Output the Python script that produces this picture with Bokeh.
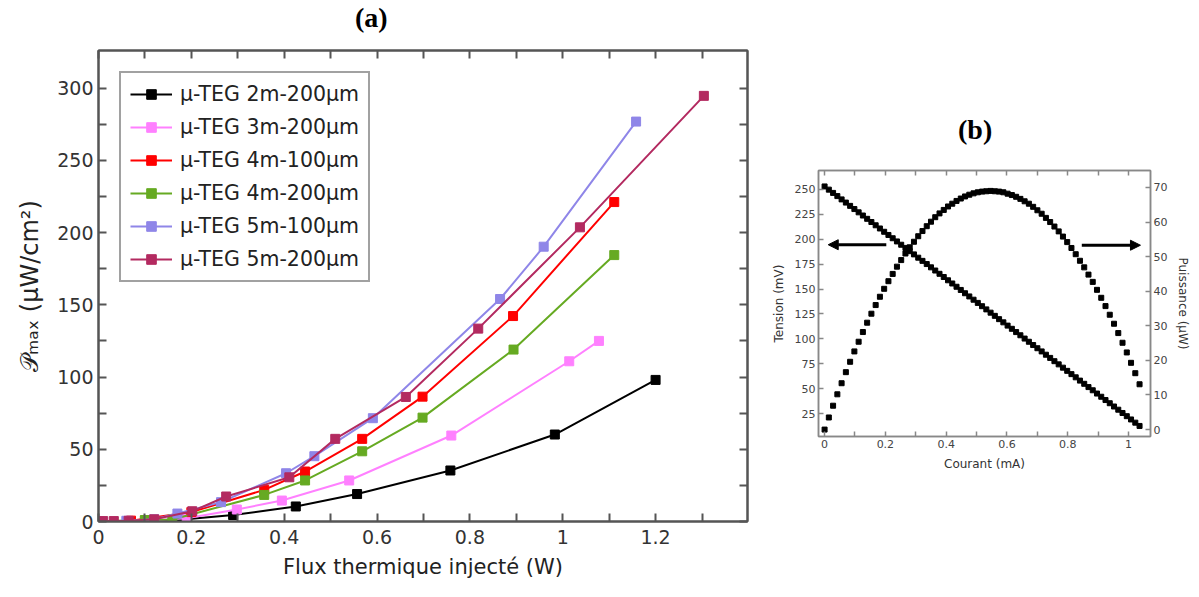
from bokeh.plotting import figure
from bokeh.layouts import row, column
from bokeh.models import (Range1d, LinearAxis, FixedTicker, CustomJSTickFormatter,
                          Arrow, NormalHead, Spacer, Div)
from bokeh.embed import file_html
from bokeh.resources import INLINE

# ---------------- panel (a) data ----------------
series_names = ["µ-TEG 2m-200µm", "µ-TEG 3m-200µm", "µ-TEG 4m-100µm",
                "µ-TEG 4m-200µm", "µ-TEG 5m-100µm", "µ-TEG 5m-200µm"]
series_colors = ["#000000", "#ff80ff", "#ff0000", "#66aa22", "#8f86e8", "#b32a60"]

flux_2m200 = [0.0, 0.10, 0.177, 0.29, 0.425, 0.557, 0.758, 0.983, 1.20]
pmax_2m200 = [0.0, 0.6, 1.2, 4.5, 10.4, 19.0, 35.3, 60.2, 98.0]

flux_3m200 = [0.0, 0.10, 0.19, 0.298, 0.395, 0.54, 0.76, 1.014, 1.078]
pmax_3m200 = [0.0, 0.5, 2.3, 8.3, 14.5, 28.4, 59.5, 110.9, 125.0]

flux_4m100 = [0.0, 0.07, 0.20, 0.357, 0.445, 0.568, 0.698, 0.893, 1.111]
pmax_4m100 = [0.2, 0.6, 6.5, 21.9, 34.6, 57.2, 86.4, 142.2, 221.1]

flux_4m200 = [0.0, 0.10, 0.159, 0.357, 0.445, 0.568, 0.698, 0.894, 1.111]
pmax_4m200 = [0.2, 1.0, 1.4, 18.4, 28.4, 48.6, 71.9, 119.0, 184.4]

flux_5m100 = [0.0, 0.06, 0.12, 0.17, 0.264, 0.404, 0.465, 0.591, 0.865, 0.959, 1.158]
pmax_5m100 = [0.2, 0.5, 1.5, 5.5, 13.4, 33.4, 45.2, 71.5, 154.0, 190.2, 276.8]

flux_5m200 = [0.01, 0.033, 0.065, 0.12, 0.202, 0.275, 0.411, 0.51, 0.662, 0.818, 1.037, 1.304]
pmax_5m200 = [0.3, 0.3, 0.5, 1.5, 7.1, 17.3, 30.6, 57.2, 86.2, 133.5, 203.6, 294.6]

a_x_major = [0, 0.2, 0.4, 0.6, 0.8, 1.0, 1.2]
a_x_minor = [0.1, 0.3, 0.5, 0.7, 0.9, 1.1, 1.3]
a_y_major = [0, 50, 100, 150, 200, 250, 300]
a_y_minor = [25, 75, 125, 175, 225, 275]

# ---------------- panel (b) data ----------------
courant_mA = [0.000, 0.014, 0.028, 0.042, 0.056, 0.070, 0.084, 0.098, 0.112, 0.126,
              0.140, 0.154, 0.168, 0.182, 0.196, 0.210, 0.224, 0.238, 0.252, 0.266,
              0.280, 0.294, 0.308, 0.322, 0.336, 0.350, 0.364, 0.378, 0.392, 0.406,
              0.420, 0.434, 0.448, 0.462, 0.476, 0.490, 0.504, 0.518, 0.532, 0.546,
              0.560, 0.574, 0.588, 0.602, 0.616, 0.630, 0.644, 0.658, 0.672, 0.686,
              0.700, 0.714, 0.728, 0.742, 0.756, 0.770, 0.784, 0.798, 0.812, 0.826,
              0.840, 0.854, 0.868, 0.882, 0.896, 0.910, 0.924, 0.938, 0.952, 0.966,
              0.980, 0.994, 1.008, 1.022, 1.036]
tension_mV = [253.0, 249.8, 246.5, 243.3, 240.0, 236.8, 233.5, 230.3, 227.0, 223.8,
              220.5, 217.3, 214.0, 210.8, 207.5, 204.3, 201.0, 197.8, 194.5, 191.3,
              188.0, 184.8, 181.5, 178.3, 175.1, 171.8, 168.6, 165.3, 162.1, 158.8,
              155.6, 152.3, 149.1, 145.8, 142.6, 139.3, 136.1, 132.8, 129.6, 126.3,
              123.1, 119.8, 116.6, 113.3, 110.1, 106.8, 103.6, 100.3, 97.1, 93.8,
              90.6, 87.4, 84.1, 80.9, 77.6, 74.4, 71.1, 67.9, 64.6, 61.4,
              58.1, 54.9, 51.6, 48.4, 45.1, 41.9, 38.6, 35.4, 32.1, 28.9,
              25.6, 22.4, 19.1, 15.9, 12.6]
puissance_uW = [0.0, 3.5, 6.9, 10.2, 13.4, 16.6, 19.6, 22.6, 25.4, 28.2,
                30.9, 33.5, 36.0, 38.4, 40.7, 42.9, 45.0, 47.1, 49.0, 50.9,
                52.7, 54.3, 55.9, 57.4, 58.8, 60.1, 61.4, 62.5, 63.5, 64.5,
                65.3, 66.1, 66.8, 67.4, 67.9, 68.3, 68.6, 68.8, 68.9, 69.0,
                68.9, 68.8, 68.6, 68.2, 67.8, 67.3, 66.7, 66.0, 65.3, 64.4,
                63.4, 62.4, 61.2, 60.0, 58.7, 57.3, 55.8, 54.2, 52.5, 50.7,
                48.8, 46.9, 44.8, 42.7, 40.4, 38.1, 35.7, 33.2, 30.6, 27.9,
                25.1, 22.3, 19.3, 16.3, 13.1]

b_x_major = [0, 0.2, 0.4, 0.6, 0.8, 1.0]
b_x_minor = [0.1, 0.3, 0.5, 0.7, 0.9]
b_yl_major = [25, 50, 75, 100, 125, 150, 175, 200, 225, 250]
b_yr_major = [0, 10, 20, 30, 40, 50, 60, 70]

FMT = CustomJSTickFormatter(code="return String(Math.round(tick*10)/10)")


def style_axis(ax, color, lw, tick_len, fs, lcol, font="DejaVu Sans"):
    ax.axis_line_color = color
    ax.axis_line_width = lw
    ax.major_tick_line_color = color
    ax.minor_tick_line_color = color
    ax.major_tick_line_width = lw
    ax.minor_tick_line_width = lw
    ax.major_tick_in = tick_len
    ax.major_tick_out = 0
    ax.minor_tick_in = tick_len
    ax.minor_tick_out = 0
    ax.major_label_text_font = font
    ax.major_label_text_font_size = fs
    ax.major_label_text_color = lcol
    ax.axis_label_text_font = font
    ax.axis_label_text_font_style = "normal"
    ax.formatter = FMT


def hide_labels(ax):
    ax.major_label_text_color = None
    ax.major_label_text_font_size = "1px"
    ax.major_label_standoff = 0


def panel_title(text, width, indent):
    return Div(text=text, width=width, height=36,
               styles={"font-family": "Liberation Serif", "font-weight": "bold",
                       "font-size": "28px", "color": "black", "line-height": "36px",
                       "text-indent": f"{indent}px", "margin": "0", "padding": "0"})


# ---------------- panel (a) ----------------
p1 = figure(width=768, height=554, x_range=Range1d(0, 1.398), y_range=Range1d(0, 326),
            output_backend="svg", toolbar_location=None,
            min_border_left=98, min_border_right=21, min_border_top=14, min_border_bottom=69,
            x_axis_label="Flux thermique injecté (W)", y_axis_label="𝒫ₘₐₓ (µW/cm²)")
p1.grid.visible = False
p1.outline_line_color = "#555555"
p1.outline_line_width = 2

bottom_a = p1.below[0]
left_a = p1.left[0]
top_a = LinearAxis()
right_a = LinearAxis()
p1.add_layout(top_a, "above")
p1.add_layout(right_a, "right")

for ax in [bottom_a, top_a]:
    ax.ticker = FixedTicker(ticks=a_x_major, minor_ticks=a_x_minor)
for ax in [left_a, right_a]:
    ax.ticker = FixedTicker(ticks=a_y_major, minor_ticks=a_y_minor)
for ax in [bottom_a, left_a, top_a, right_a]:
    style_axis(ax, "#555555", 2, 8, "19px", "#333333")
hide_labels(top_a)
hide_labels(right_a)

bottom_a.axis_label_text_font_size = "21px"
bottom_a.axis_label_text_color = "#222222"
bottom_a.major_label_standoff = 8
bottom_a.axis_label_standoff = 8
left_a.axis_label_text_font_size = "24px"
left_a.axis_label_text_color = "#222222"
left_a.major_label_standoff = 5
left_a.axis_label_standoff = 10

xs_a = [flux_2m200, flux_3m200, flux_4m100, flux_4m200, flux_5m100, flux_5m200]
ys_a = [pmax_2m200, pmax_3m200, pmax_4m100, pmax_4m200, pmax_5m100, pmax_5m200]
for name, col, xs, ys in zip(series_names, series_colors, xs_a, ys_a):
    p1.line(xs, ys, line_color=col, line_width=2, legend_label=name)
    p1.scatter(xs, ys, marker="square", size=9, fill_color=col, line_color=col,
               legend_label=name)

lg = p1.legend[0]
lg.location = "top_left"
lg.margin = 21
lg.border_line_color = "#444444"
lg.border_line_width = 2
lg.background_fill_color = "white"
lg.background_fill_alpha = 1.0
lg.label_text_font = "DejaVu Sans"
lg.label_text_font_size = "20.5px"
lg.label_text_color = "#222222"
lg.glyph_width = 42
lg.glyph_height = 24
lg.label_height = 24
lg.spacing = 9
lg.padding = 9
lg.label_standoff = 8

# ---------------- panel (b) ----------------
p2 = figure(width=428, height=340, x_range=Range1d(-0.02, 1.072), y_range=Range1d(2, 269),
            output_backend="svg", toolbar_location=None,
            min_border_left=49, min_border_right=46, min_border_top=22, min_border_bottom=52,
            x_axis_label="Courant (mA)", y_axis_label="Tension (mV)")
p2.grid.visible = False
p2.outline_line_color = "#888888"
p2.outline_line_width = 1.5
p2.extra_y_ranges = {"p": Range1d(-2, 74.9)}

bottom_b = p2.below[0]
left_b = p2.left[0]
top_b = LinearAxis()
right_b = LinearAxis(y_range_name="p", axis_label="Puissance (µW)")
p2.add_layout(top_b, "above")
p2.add_layout(right_b, "right")

for ax in [bottom_b, top_b]:
    ax.ticker = FixedTicker(ticks=b_x_major, minor_ticks=b_x_minor)
left_b.ticker = FixedTicker(ticks=b_yl_major, minor_ticks=[])
right_b.ticker = FixedTicker(ticks=b_yr_major, minor_ticks=[])

for ax in [bottom_b, left_b, top_b, right_b]:
    style_axis(ax, "#888888", 1.5, 5, "11px", "#444444")
    ax.axis_label_text_font_size = "12px"
    ax.axis_label_text_color = "#333333"
    ax.major_label_standoff = 3
    ax.axis_label_standoff = 6
hide_labels(top_b)

p2.scatter(courant_mA, tension_mV, marker="square", size=5, fill_color="black",
           line_color="black")
p2.scatter(courant_mA, puissance_uW, marker="square", size=5, fill_color="black",
           line_color="black", y_range_name="p")

arrow_left = dict(x_start=0.203, x_end=0.012, y=194.5)
arrow_right = dict(x_start=0.846, x_end=1.039, y=194.0)
for ar in [arrow_left, arrow_right]:
    p2.add_layout(Arrow(end=NormalHead(size=10, fill_color="black", line_color="black"),
                        x_start=ar["x_start"], y_start=ar["y"],
                        x_end=ar["x_end"], y_end=ar["y"],
                        line_color="black", line_width=3))

layout = row(column(panel_title("(a)", 768, 355), p1),
             column(Spacer(width=428, height=112), panel_title("(b)", 428, 190), p2))
open("out.html", "w").write(file_html(layout, INLINE))
